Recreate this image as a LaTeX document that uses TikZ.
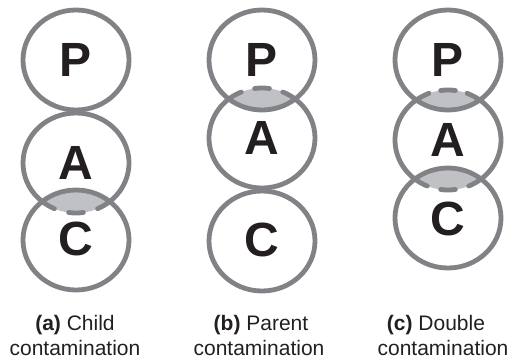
\documentclass[tikz,border=0pt]{standalone}
\usepackage{fontspec}
\setmainfont{Liberation Sans}
\definecolor{circgray}{RGB}{128,130,134}
\definecolor{lensgray}{RGB}{192,193,197}
\definecolor{inkblack}{RGB}{35,31,32}
\newcommand\ellarc[3]{\draw[circ] (#1) ++(#2:53 and 50) arc[start angle=#2,end angle=#3,x radius=53,y radius=50];}
\begin{document}
\begin{tikzpicture}[x=1pt,y=-1pt,
  circ/.style={draw=circgray,line width=4.8pt,line cap=round},
  letter/.style={inner sep=0pt,text=inkblack,font=\fontsize{48}{48}\selectfont\bfseries},
  caption/.style={inner sep=0pt,anchor=base,text=inkblack,font=\fontsize{21}{25}\selectfont}]
\useasboundingbox (0,0) rectangle (517,360);
% centres
\coordinate (aP) at (76,60);  \coordinate (aA) at (76,163); \coordinate (aC) at (76,240);
\coordinate (bP) at (262,60); \coordinate (bA) at (262,138); \coordinate (bC) at (262,241);
\coordinate (cP) at (448,60); \coordinate (cA) at (448,140); \coordinate (cC) at (448,218);
% lens fills
\begin{scope}\clip (aA) ellipse[x radius=53,y radius=50]; \fill[lensgray] (aC) ellipse[x radius=53,y radius=50];\end{scope}
\begin{scope}\clip (bP) ellipse[x radius=53,y radius=50]; \fill[lensgray] (bA) ellipse[x radius=53,y radius=50];\end{scope}
\begin{scope}\clip (cP) ellipse[x radius=53,y radius=50]; \fill[lensgray] (cA) ellipse[x radius=53,y radius=50];\end{scope}
\begin{scope}\clip (cA) ellipse[x radius=53,y radius=50]; \fill[lensgray] (cC) ellipse[x radius=53,y radius=50];\end{scope}
% (a)
\draw[circ] (aP) ellipse[x radius=53,y radius=50];
\draw[circ] (aC) ellipse[x radius=53,y radius=50];
\ellarc{aA}{129.6}{410.4}
\ellarc{aA}{50.4}{66}
\ellarc{aA}{82}{98}
\ellarc{aA}{114}{129.6}
% (b)
\draw[circ] (bP) ellipse[x radius=53,y radius=50];
\draw[circ] (bC) ellipse[x radius=53,y radius=50];
\ellarc{bA}{-51.3}{231.3}
\ellarc{bA}{-128.7}{-113}
\ellarc{bA}{-98}{-82}
\ellarc{bA}{-67}{-51.3}
% (c)
\draw[circ] (cP) ellipse[x radius=53,y radius=50];
\draw[circ] (cC) ellipse[x radius=53,y radius=50];
\ellarc{cA}{-53.1}{51.3}
\ellarc{cA}{128.7}{233.1}
\ellarc{cA}{-126.9}{-111}
\ellarc{cA}{-98}{-82}
\ellarc{cA}{-69}{-53.1}
\ellarc{cA}{51.3}{67}
\ellarc{cA}{82}{98}
\ellarc{cA}{113}{128.7}
% letters
\node[letter] (laP) at (aP) {P}; \node[letter] (laA) at (aA) {A}; \node[letter] (laC) at ([yshift=1]aC) {C};
\node[letter] (lbP) at (bP) {P}; \node[letter] (lbA) at (bA) {A}; \node[letter] (lbC) at ([yshift=1]bC) {C};
\node[letter] (lcP) at (cP) {P}; \node[letter] (lcA) at (cA) {A}; \node[letter] (lcC) at ([yshift=-1]cC) {C};
% captions
\node[caption] (capa1) at (75,330) {\textbf{(a)} Child};
\node[caption] (capa2) at (75,355) {contamination};
\node[caption] (capb1) at (261,330) {\textbf{(b)} Parent};
\node[caption] (capb2) at (259,355) {contamination};
\node[caption] (capc1) at (436,330) {\textbf{(c)} Double};
\node[caption] (capc2) at (443,355) {contamination};
\end{tikzpicture}
\end{document}
